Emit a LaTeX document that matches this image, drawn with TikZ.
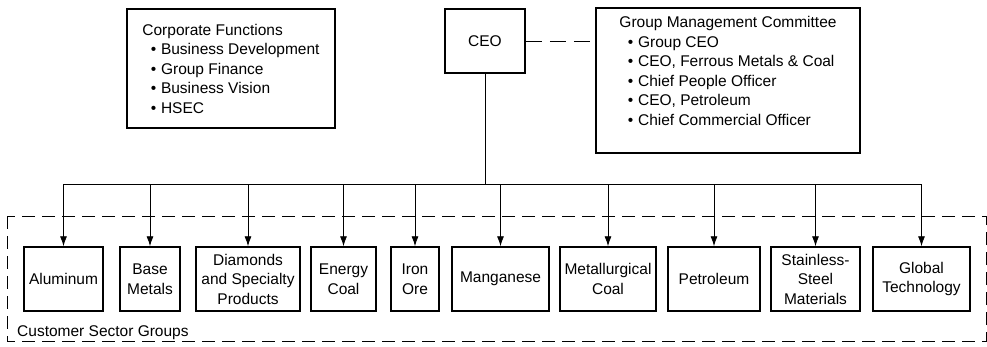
\documentclass[tikz,border=0pt]{standalone}
\usepackage{fontspec}
\setmainfont{Liberation Sans}
\usetikzlibrary{arrows.meta}

\tikzset{
  orgtext/.style={font=\fontsize{15.5}{19.5}\selectfont},
  unitbox/.style={orgtext, draw, line width=1.5pt, align=center, inner sep=1pt, minimum height=64pt},
  listbox/.style={orgtext, draw, line width=1.5pt, align=left},
  link/.style={line width=0.8pt},
  feed/.style={line width=0.8pt, -{Latex[length=10pt,width=7pt]}},
  grpframe/.style={line width=0.8pt, dash pattern=on 13pt off 7pt},
}
\newcommand{\itm}{\hspace*{0.55em}\textbullet\hspace{0.3em}}

\begin{document}
\begin{tikzpicture}[x=1pt, y=1pt]
\useasboundingbox (0,0) rectangle (987,346);

% Direccion
\node[unitbox, minimum width=80pt] (ceo) at (485,305) {CEO};

% Funciones corporativas
\node[listbox, minimum width=208pt, minimum height=119pt] (corp) at (231,277.5)
  {Corporate Functions\\ \itm Business Development\\ \itm Group Finance\\ \itm Business Vision\\ \itm HSEC};

% Comite de gestion
\node[listbox, minimum width=264pt, minimum height=145pt] (gmc) at (728,265.5)
  {Group Management Committee\\ \itm Group CEO\\ \itm CEO, Ferrous Metals \& Coal\\ \itm Chief People Officer\\ \itm CEO, Petroleum\\ \itm Chief Commercial Officer\\[-6pt] \strut};
\draw[link, dash pattern=on 16pt off 8pt] (ceo.east) -- (ceo.east -| gmc.west);

% Grupos de sectores
\draw[grpframe] (7,130) rectangle (986,5);
\node[orgtext, anchor=base west, inner sep=0pt] (csg) at (17,10) {Customer Sector Groups};

\foreach \nm/\cx/\bw/\txt in {alu/63.5/79/Aluminum, base/150/60/{Base\\Metals},
    diam/248/104/{Diamonds\\and Specialty\\Products}, ecoal/343.5/65/{Energy\\Coal},
    iron/415/48/{Iron\\Ore}, mang/500.5/97/Manganese, mcoal/608/96/{Metallurgical\\Coal},
    petr/714/92/Petroleum, steel/815.5/89/{Stainless-\\Steel\\Materials},
    glob/921.5/97/{Global\\Technology}}
  \node[unitbox, minimum width=\bw pt] (\nm) at (\cx,67) {\txt};

% Barra de conexion
\coordinate (bus) at (485,162);
\draw[link] (ceo.south) -- (bus);
\draw[link] (alu.north |- bus) -- (glob.north |- bus);
\foreach \nm in {alu, base, diam, ecoal, iron, mang, mcoal, petr, steel, glob}
  \draw[feed] (\nm.north |- bus) -- (\nm.north);

\end{tikzpicture}
\end{document}
